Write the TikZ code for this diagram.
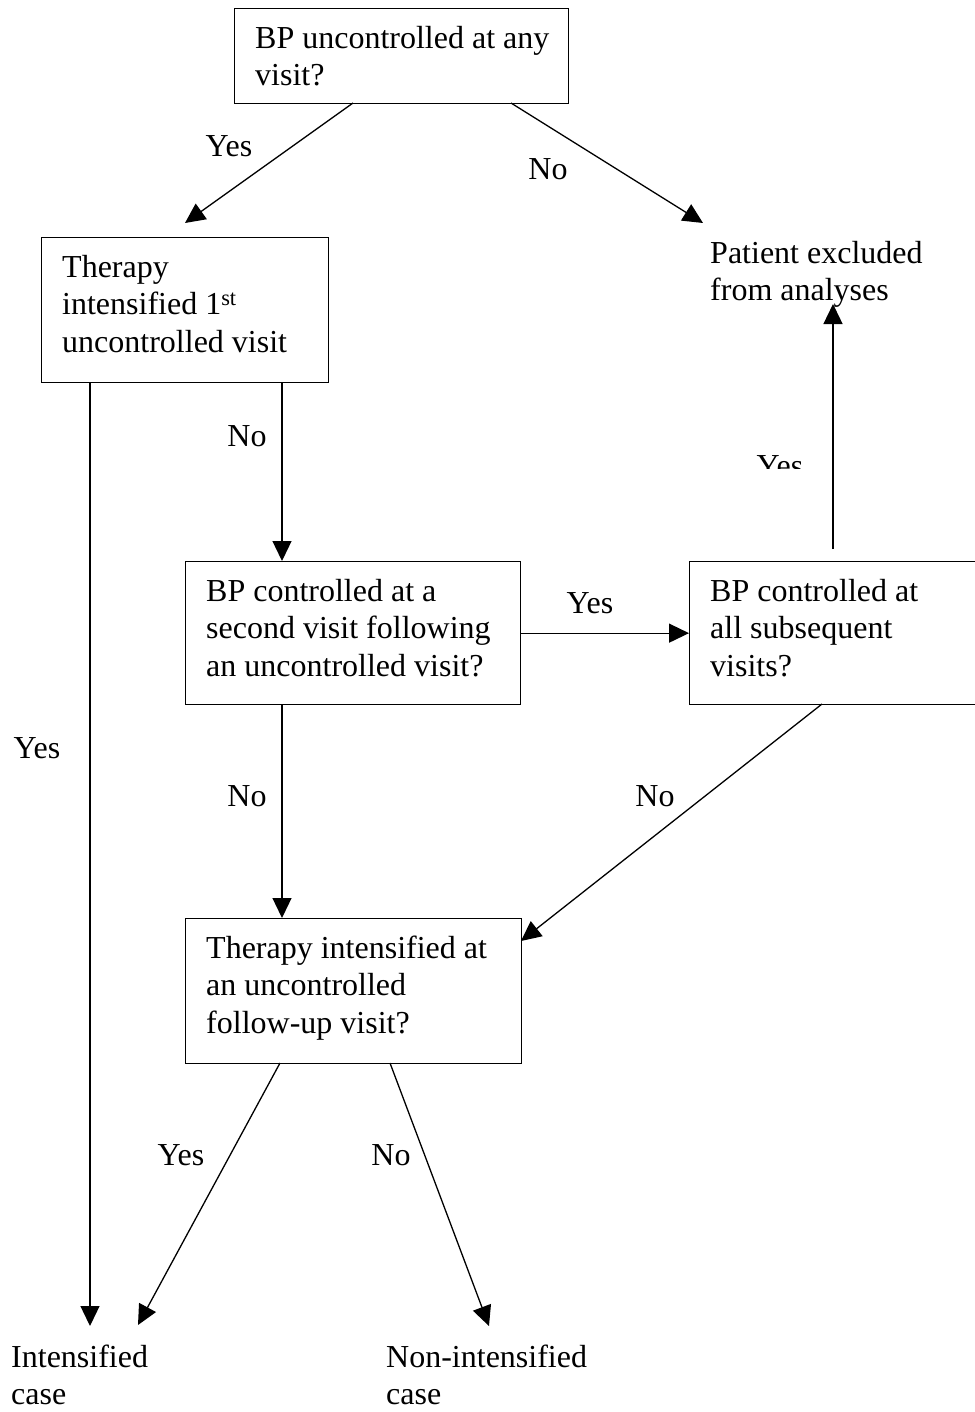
\documentclass[tikz,border=0pt]{standalone}
\usepackage{fontspec}
\setmainfont{Liberation Serif}
\usetikzlibrary{arrows.meta}
\tikzset{
  box/.style={draw, line width=1.3pt, inner sep=0pt, anchor=north west},
  txt/.style={font=\fontsize{32}{37.5}\selectfont, align=left, inner sep=0pt, anchor=north west},
  lbl/.style={font=\fontsize{32}{37.5}\selectfont, inner sep=0pt, anchor=base},
  conn/.style={line width=1.3pt, -{Triangle[length=20pt,width=19pt]}}
}
\begin{document}
\begin{tikzpicture}[x=1pt,y=-1pt]
\useasboundingbox (0,0) rectangle (974,1412);
% boxes
\node[box, minimum width=334pt, minimum height=95pt] (b1) at (234,8) {};
\node[box, minimum width=287pt, minimum height=145pt] (b2) at (41,237) {};
\node[box, minimum width=335pt, minimum height=143pt] (b3) at (185,561) {};
\node[box, minimum width=300pt, minimum height=143pt] (b4) at (689,561) {};
\node[box, minimum width=336pt, minimum height=145pt] (b5) at (185,918) {};
% texts
\node[txt] (t1) at (255,21.75) {\strut BP uncontrolled at any\\visit?};
\node[txt] (t2) at (62,250.75) {\strut Therapy\\intensified 1\textsuperscript{st}\\uncontrolled visit};
\node[txt] (t3) at (206,574.75) {\strut BP controlled at a\\second visit following\\an uncontrolled visit?};
\node[txt] (t4) at (710,574.75) {\strut BP controlled at\\all subsequent\\visits?};
\node[txt] (t5) at (206,931.75) {\strut Therapy intensified at\\an uncontrolled\\follow-up visit?};
\node[txt] (pe) at (710,236.75) {\strut Patient excluded\\from analyses};
\node[txt] (ic) at (11,1340.75) {\strut Intensified\\case};
\node[txt] (nc) at (386,1340.75) {\strut Non-intensified\\case};
% connector end points
\coordinate (s1) at (353,103);
\coordinate (e1) at (185,223);
\coordinate (s2) at (511,103);
\coordinate (e2) at (703,223);
\coordinate (s3) at (90,382);
\coordinate (e3) at (90,1326);
\coordinate (s4) at (282,382);
\coordinate (e4) at (282,561);
\coordinate (s6) at (833,549);
\coordinate (e6) at (833,304);
\coordinate (s7) at (282,704);
\coordinate (e7) at (282,918);
\coordinate (s8) at (822,704);
\coordinate (e8) at (521,941);
\coordinate (s9) at (280,1063);
\coordinate (e9) at (138,1325);
\coordinate (s10) at (390,1063);
\coordinate (e10) at (489,1326);
% connectors
\draw[conn] (s1) -- (e1);
\draw[conn] (s2) -- (e2);
\draw[conn] (s3) -- (e3);
\draw[conn] (s4) -- (e4);
\draw[conn] (b3.east) -- (b4.west);
\draw[conn] (s6) -- (e6);
\draw[conn] (s7) -- (e7);
\draw[conn] (s8) -- (e8);
\draw[conn] (s9) -- (e9);
\draw[conn] (s10) -- (e10);
% labels
\node[lbl] (l1) at (229,157) {Yes};
\node[lbl] (l2) at (548,180) {No};
\node[lbl] (l3) at (37,758) {Yes};
\node[lbl] (l4) at (247,446) {No};
\node[lbl] (l5) at (590,613) {Yes};
\node[lbl] (l7) at (247,806) {No};
\node[lbl] (l8) at (655,806) {No};
\node[lbl] (l9) at (181,1165) {Yes};
\node[lbl] (l10) at (391,1165) {No};
\begin{scope}
\clip (700,430) rectangle (830,468);
\node[lbl] (l6) at (780,476) {Yes};
\end{scope}
\end{tikzpicture}
\end{document}
